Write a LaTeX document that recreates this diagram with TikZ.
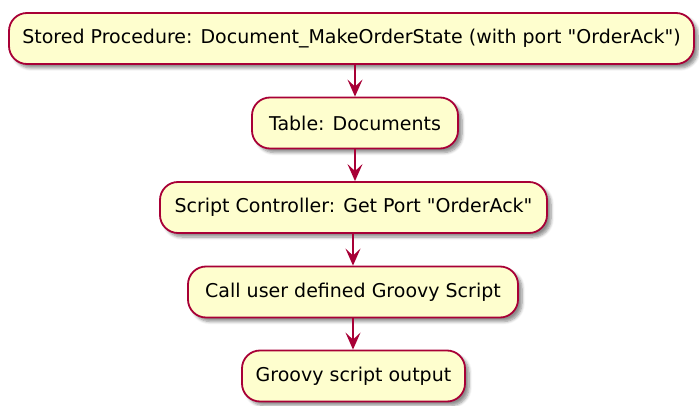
\documentclass[tikz,border=0pt]{standalone}
\usepackage{fontspec}
\newfontfamily\labelfont{DejaVu Sans}
\usetikzlibrary{arrows.meta,shadows.blur}
\definecolor{actfill}{HTML}{FEFECE}
\definecolor{actline}{HTML}{A80036}
\tikzset{
  activity/.style={draw=actline, fill=actfill, line width=1.8pt,
    rounded corners=18pt, minimum height=51pt, inner sep=0pt,
    font=\labelfont\fontsize{19}{23}\selectfont, text=black,
    blur shadow={shadow xshift=4pt, shadow yshift=-4pt,
      shadow blur steps=6, shadow blur radius=3pt, shadow opacity=45}},
  flow/.style={draw=actline, line width=1.8pt,
    -{Stealth[length=17pt, width=15pt, inset=7pt]}}
}
\begin{document}
\begin{tikzpicture}[x=1pt, y=-1pt]
\useasboundingbox (0,0) rectangle (699,406);
\node[activity, minimum width=685pt] (sp) at (351.5,38.5)
  {Stored Procedure: Document\_MakeOrderState (with port "OrderAck")};
\node[activity, minimum width=206pt] (tbl) at (355,123)
  {Table: Documents};
\node[activity, minimum width=387pt] (ctl) at (353.5,207.5)
  {Script Controller: Get Port "OrderAck"};
\node[activity, minimum width=330pt] (call) at (353,292)
  {Call user defined Groovy Script};
\node[activity, minimum width=223pt] (out) at (353.5,376)
  {Groovy script output};
\draw[flow] (sp.south -| tbl.north) -- (tbl.north);
\draw[flow] (tbl.south) -- (tbl.south |- ctl.north);
\draw[flow] (call.north |- ctl.south) -- (call.north);
\draw[flow] (call.south) -- (call.south |- out.north);
\end{tikzpicture}
\end{document}
